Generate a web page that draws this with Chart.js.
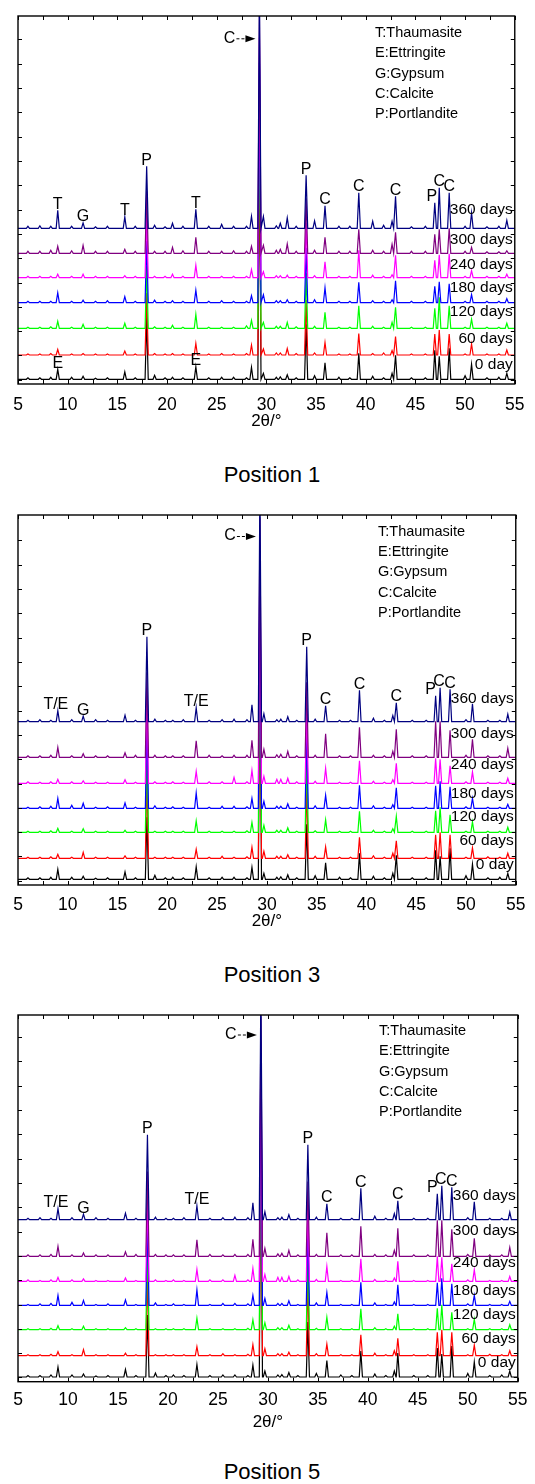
<!DOCTYPE html>
<html lang="en">
<head>
  <meta charset="UTF-8">
  <title>XRD patterns, positions 1, 3 and 5</title>
  <script src="https://cdn.jsdelivr.net/npm/chart.js"></script>
  <style>
    body {
      margin: 0;
      background-color: #ffffff;
      font-family: "Liberation Sans", Arial, sans-serif;
    }
    #page {
      position: relative;
      width: 535px;
      height: 1484px;
    }
    canvas {
      position: absolute;
      left: 0;
    }
    .caption {
      position: absolute;
      left: 0;
      width: 544px;
      text-align: center;
      font-size: 22px;
      line-height: 26px;
      color: #000;
    }
  </style>
</head>
<body>
  <div id="page">
    <canvas id="pos1" width="535" height="440" style="top:0px"></canvas>
    <div class="caption" style="top:462px">Position 1</div>
    <canvas id="pos3" width="535" height="440" style="top:500px"></canvas>
    <div class="caption" style="top:962px">Position 3</div>
    <canvas id="pos5" width="535" height="440" style="top:1000px"></canvas>
    <div class="caption" style="top:1459px">Position 5</div>
  </div>

  <script>
    // 2theta positions of the peaks / bumps
    const THETA = [6.0, 7.2, 8.3, 9.0, 10.4, 11.55, 12.8, 14.0, 15.75, 16.8,
                   17.95, 18.75, 19.8, 20.55, 21.6, 22.9, 24.2, 25.5, 26.7, 28.0,
                   28.5, 29.3, 29.7, 31.0, 31.4, 32.1, 33.0, 34.0, 34.85, 35.9,
                   37.3, 38.4, 39.3, 40.7, 41.8, 42.65, 43.0, 44.6, 46.0, 46.95,
                   47.4, 48.4, 50.0, 50.65, 52.2, 53.4, 54.2];

    const DAYS = ["0 day", "60 days", "120 days", "180 days", "240 days", "300 days", "360 days"];
    const COLORS = ["#000000", "#ff0000", "#00ff00", "#0000ff", "#ff00ff", "#800080", "#000080"];
    const X_TICKS = [5, 7.5, 10, 12.5, 15, 17.5, 20, 22.5, 25, 27.5, 30, 32.5, 35, 37.5, 40, 42.5, 45, 47.5, 50, 52.5, 55];
    const LEGEND_LINES = ["T:Thaumasite", "E:Ettringite", "G:Gypsum", "C:Calcite", "P:Portlandite"];

    // peak heights above each baseline (same order as THETA)
    const DAY0 = [1.5, 1.5, 2, 10, 2, 3, 1, 1.5, 7.5, 1.5, 62, 4, 1.5, 2, 1.5, 12.5, 1.5, 2, 2, 1.5,
                  12, 240, 6, 2, 2.5, 4.5, 1.5, 55, 3.5, 16.5, 2, 1.5, 26, 3, 1.5, 6, 24, 1.5, 1.5, 29,
                  23, 31, 3.5, 15, 1.5, 2, 6];

    // Position 1
    const P1_D60  = [1, 1, 1.5, 5.5, 1, 1.5, 1, 1, 4, 1, 62, 1.5, 1, 1.5, 1, 11.5, 1, 1.5, 1, 1.5,
                     10, 240, 6, 2, 2, 6.5, 1.5, 55, 2, 12.5, 1, 1, 21.5, 1.5, 2, 4.5, 18.5, 1, 1, 21,
                     25, 21, 1, 11, 1, 1, 5];
    const P1_D120 = [1, 1, 1.5, 7, 1, 4, 1, 1, 5, 1, 62, 1.5, 1, 3, 1, 14, 1, 1, 1, 2.5,
                     8, 240, 6, 2, 2, 6, 1.5, 55, 2, 16, 1, 1, 22.5, 2, 1, 6, 21, 1, 1, 20,
                     31, 22.5, 1, 9, 1, 1, 5];
    const P1_D180 = [1.5, 1.5, 1.5, 10, 1.5, 2.5, 1.5, 2, 6, 1.5, 62, 2.5, 1.5, 2, 1.5, 12.5, 1.5, 2, 1.5, 1.5,
                     7, 240, 8, 2, 2, 3, 1.5, 55, 3, 15, 1.5, 1.5, 20.5, 2, 1.5, 3, 22, 1.5, 1.5, 16.5,
                     21, 19, 1.5, 8, 1.5, 1.5, 4];
    const P1_D240 = [1.5, 1.5, 1.5, 3.5, 1.5, 3.5, 1.5, 1.5, 2, 1.5, 62, 1.5, 1.5, 3.5, 1.5, 12.5, 1.5, 1.5, 1.5, 1.5,
                     8, 240, 6, 2, 2, 2.5, 1.5, 55, 2, 16, 1.5, 1.5, 27.5, 2.5, 1.5, 3, 22.5, 1.5, 1.5, 17.5,
                     23, 24, 1.5, 7, 1.5, 1.5, 3.5];
    const P1_D300 = [2, 2, 3, 7, 2.5, 8, 2, 2, 4, 2, 62, 2, 2, 6, 2.5, 16, 2, 2, 2.5, 2,
                     7, 240, 8, 3, 4, 9.5, 2, 55, 3, 16, 2, 2, 24, 3, 2, 9, 21, 2, 2, 19,
                     24, 25, 2, 6, 1.5, 1.5, 2.5];
    const P1_D360 = [2, 2.5, 2, 18, 2, 5.5, 1.5, 2, 11.5, 2, 62, 3, 1.5, 5, 2, 19, 2, 4, 2, 2,
                     12, 240, 12, 2.5, 5, 10.5, 2, 53, 7.5, 22.5, 2, 2, 35.5, 7, 3, 7, 32, 1.5, 2, 25.5,
                     40.5, 35.5, 2, 15.5, 1.5, 2, 8];

    // Positions 3 and 5 (the two patterns are the same)
    const P3_D60  = [1, 1, 1.5, 4, 1, 6, 1, 1, 2.5, 1, 85, 1, 1, 1, 1, 9, 1, 2, 1, 1.5,
                     11, 240, 7, 2, 2, 3.5, 1, 75, 2, 11.5, 1, 1, 21, 2.5, 1, 5, 17.5, 1, 1, 23.5,
                     26, 23.5, 1, 10.5, 1.5, 1, 5];
    const P3_D120 = [1, 1, 1.5, 4, 1, 3.5, 1, 1, 2, 1, 85, 1, 1, 1, 1, 11.5, 1, 1, 1, 1.5,
                     10, 240, 7, 2, 2, 4.5, 1, 75, 1.5, 12.5, 1, 1, 21, 2, 1, 3.5, 16, 1, 1, 21.5,
                     25, 17.5, 1, 10.5, 1, 1, 5];
    const P3_D180 = [1, 1.5, 2, 10, 3, 5, 1, 1.5, 5.5, 1, 85, 2.5, 1, 1.5, 1, 15.5, 1, 2, 2, 1.5,
                     10, 240, 7, 2, 2, 4.5, 1, 75, 2.5, 13, 1, 1, 23, 2.5, 1, 3.5, 20.5, 1, 1, 22.5,
                     27, 21.5, 1.5, 10, 1, 1, 4];
    const P3_D240 = [1.5, 1, 1.5, 4, 1.5, 2.5, 1, 1, 3.5, 1, 85, 1.5, 1, 1.5, 1, 12, 1.5, 1.5, 6, 1.5,
                     13, 240, 7, 4, 4, 5, 1.5, 75, 2, 15, 1, 1, 22.5, 2, 1, 3.5, 20, 1, 1, 25,
                     24, 17.5, 1.5, 11.5, 1, 1, 5];
    const P3_D300 = [1.5, 1.5, 2, 10, 1.5, 3.5, 1.5, 1.5, 4.5, 2, 85, 2, 1.5, 1.5, 1.5, 16.5, 2, 1.5, 2, 2,
                     17, 240, 8, 2.5, 3, 6, 1.5, 75, 2, 23.5, 1.5, 1.5, 30, 2, 1.5, 6, 28, 1.5, 1.5, 36,
                     36, 27, 2, 18, 1.5, 1.5, 9];
    const P3_D360 = [1.5, 2, 1.5, 11, 2, 5.5, 2, 1.5, 6.5, 1.5, 85, 2.5, 1.5, 1.5, 2, 14, 1.5, 2, 2.5, 2,
                     17, 240, 8, 2, 2.5, 5, 1.5, 75, 2.5, 16, 1.5, 1.5, 31.5, 3.5, 1.5, 6, 19, 1.5, 1.5, 26,
                     34, 32.5, 2, 18, 1.5, 1.5, 7.5];

    // vertical offsets of the stacked patterns (0 day ... 360 days)
    const P1_BASE = [4.7, 29, 55.7, 81.3, 106.3, 130.7, 155.7];
    const P3_BASE = [5.7, 26.7, 52.7, 76.7, 101.7, 127.7, 163.3];
    const P5_BASE = [4.7, 26, 52, 76.3, 100.3, 125.3, 162];

    const FONT = '"Liberation Sans", Arial, sans-serif';
    const HW = 0.16; // half width of a peak, degrees

    const NOTES_1 = [
      {t: 9.0, s: "T", tr: 6}, {t: 11.55, s: "G", tr: 6}, {t: 15.75, s: "T", tr: 6},
      {t: 17.95, s: "P", tr: 6}, {t: 22.9, s: "T", tr: 6}, {t: 34.0, s: "P", tr: 6},
      {t: 35.9, s: "C", tr: 6}, {t: 39.3, s: "C", tr: 6}, {t: 43.0, s: "C", tr: 6},
      {t: 46.95, s: "P", tr: 6, dx: -3}, {t: 47.4, s: "C", tr: 6}, {t: 48.4, s: "C", tr: 6},
      {t: 9.0, s: "E", tr: 0}, {t: 22.9, s: "E", tr: 0}
    ];
    const NOTES_35 = [
      {t: 9.0, s: "T/E", tr: 6, dx: -2}, {t: 11.55, s: "G", tr: 6}, {t: 17.95, s: "P", tr: 6},
      {t: 22.9, s: "T/E", tr: 6}, {t: 34.0, s: "P", tr: 6}, {t: 35.9, s: "C", tr: 6},
      {t: 39.3, s: "C", tr: 6}, {t: 43.0, s: "C", tr: 6}, {t: 46.95, s: "P", tr: 6, dx: -5},
      {t: 47.4, s: "C", tr: 6, dx: -1}, {t: 48.4, s: "C", tr: 6}
    ];

    const PANELS = [
      {id: "pos1", series: [DAY0, P1_D60, P1_D120, P1_D180, P1_D240, P1_D300, P1_D360], base: P1_BASE,
       dayY: [19, 45, 72.3, 96.7, 119, 144, 174], notes: NOTES_1,
       top: 16, h: 368, xh: 47.5, pb: 8.5, tickPad: 10.5, legendX: 357, legendY: 17, arrowY: 22.3},
      {id: "pos3", series: [DAY0, P3_D60, P3_D120, P3_D180, P3_D240, P3_D300, P3_D360], base: P3_BASE,
       dayY: [20, 44.3, 68.3, 91.7, 120, 151.7, 186.7], notes: NOTES_35,
       top: 15, h: 370, xh: 46.5, pb: 8.5, tickPad: 9.5, legendX: 360, legendY: 16.7, arrowY: 21},
      {id: "pos5", series: [DAY0, P3_D60, P3_D120, P3_D180, P3_D240, P3_D300, P3_D360], base: P5_BASE,
       dayY: [18.7, 43, 67, 91.3, 119.3, 151.3, 186], notes: NOTES_35,
       top: 15, h: 366.7, xh: 51, pb: 7.3, tickPad: 7.5, legendX: 361, legendY: 16, arrowY: 19.5}
    ];

    function pattern(heights, base) {
      const pts = [{x: 5, y: base}];
      THETA.forEach((t, i) => {
        pts.push({x: t - HW, y: base}, {x: t, y: base + heights[i]}, {x: t + HW, y: base});
      });
      pts.push({x: 55, y: base});
      return pts;
    }

    // box with inward ticks on all four sides
    const framePlugin = {
      id: "frame",
      afterDraw(chart) {
        const {ctx, chartArea: a} = chart;
        const x = chart.scales.x, y = chart.scales.y;
        ctx.save();
        ctx.strokeStyle = "#000";
        ctx.lineWidth = 1.4;
        ctx.strokeRect(a.left, a.top, a.right - a.left, a.bottom - a.top);
        ctx.lineWidth = 1;
        ctx.beginPath();
        X_TICKS.forEach(v => {
          const px = Math.round(x.getPixelForValue(v)) + 0.5;
          ctx.moveTo(px, a.bottom); ctx.lineTo(px, a.bottom - 4);
          ctx.moveTo(px, a.top); ctx.lineTo(px, a.top + 4);
        });
        for (let v = 4.3; v < y.max - 2; v += 24.3) {
          const py = Math.round(y.getPixelForValue(v)) + 0.5;
          ctx.moveTo(a.left, py); ctx.lineTo(a.left + 4, py);
          ctx.moveTo(a.right, py); ctx.lineTo(a.right - 4, py);
        }
        ctx.stroke();
        ctx.restore();
      }
    };

    function notesPlugin(p) {
      return {
        id: "notes",
        afterDraw(chart) {
          const {ctx, chartArea: a} = chart;
          const x = chart.scales.x, y = chart.scales.y;
          ctx.save();
          ctx.fillStyle = "#000";
          ctx.strokeStyle = "#000";

          ctx.font = "14.5px " + FONT;
          ctx.textAlign = "left";
          ctx.textBaseline = "middle";
          LEGEND_LINES.forEach((s, i) => ctx.fillText(s, a.left + p.legendX, a.top + p.legendY + i * 20.3));

          ctx.font = "15.5px " + FONT;
          ctx.textAlign = "right";
          DAYS.forEach((d, i) => ctx.fillText(d, a.right - 2, y.getPixelForValue(p.dayY[i])));

          ctx.font = "16px " + FONT;
          ctx.textAlign = "center";
          ctx.textBaseline = "alphabetic";
          p.notes.forEach(n => {
            const i = THETA.indexOf(n.t);
            const top = p.base[n.tr] + p.series[n.tr][i];
            ctx.fillText(n.s, x.getPixelForValue(n.t) + (n.dx || 0), y.getPixelForValue(top) - 1.5);
          });

          // "C - - >" pointing at the main calcite peak
          const tip = x.getPixelForValue(29.3) - 4;
          const ay = a.top + p.arrowY;
          ctx.textBaseline = "middle";
          ctx.fillText("C", tip - 26, ay);
          ctx.lineWidth = 1;
          ctx.setLineDash([3, 2]);
          ctx.beginPath();
          ctx.moveTo(tip - 19, ay + 0.5);
          ctx.lineTo(tip - 9, ay + 0.5);
          ctx.stroke();
          ctx.setLineDash([]);
          ctx.beginPath();
          ctx.moveTo(tip - 10, ay - 3);
          ctx.lineTo(tip, ay + 0.5);
          ctx.lineTo(tip - 10, ay + 4);
          ctx.closePath();
          ctx.fill();
          ctx.restore();
        }
      };
    }

    function makeChart(p) {
      const datasets = DAYS.map((d, i) => ({
        label: d,
        data: pattern(p.series[i], p.base[i]),
        borderColor: COLORS[i],
        borderWidth: 1.2,
        pointRadius: 0,
        tension: 0,
        order: DAYS.length - i
      }));

      new Chart(document.getElementById(p.id).getContext("2d"), {
        type: "line",
        data: {datasets: datasets},
        options: {
          responsive: false,
          animation: false,
          events: [],
          layout: {padding: {left: 18, right: 13, top: p.top, bottom: p.pb}},
          plugins: {legend: {display: false}, tooltip: {enabled: false}},
          scales: {
            x: {
              type: "linear",
              min: 5,
              max: 55,
              grid: {display: false, drawTicks: false},
              border: {display: false},
              ticks: {stepSize: 5, maxRotation: 0, autoSkip: false, padding: p.tickPad,
                      color: "#000", font: {family: FONT, size: 17.5}},
              title: {display: true, text: "2θ/°", color: "#000", padding: 0,
                      font: {family: FONT, size: 17}},
              afterFit: s => { s.height = p.xh; }
            },
            y: {
              display: false,
              min: 0,
              max: p.h
            }
          }
        },
        plugins: [framePlugin, notesPlugin(p)]
      });
    }

    PANELS.forEach(makeChart);
  </script>
</body>
</html>
